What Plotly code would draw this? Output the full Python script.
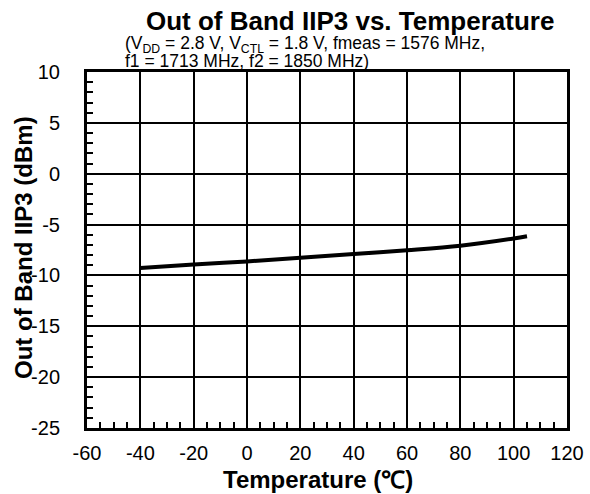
import plotly.graph_objects as go

temperature = [-40, -20, 0, 20, 40, 60, 80, 100, 105]
iip3 = [-9.27, -8.92, -8.62, -8.26, -7.90, -7.53, -7.08, -6.36, -6.14]

x_tickvals = [-60, -40, -20, 0, 20, 40, 60, 80, 100, 120]
x_ticktext = ["-60", "-40", "-20", "0", "20", "40", "60", "80", "100", "120"]
y_tickvals = [-25, -20, -15, -10, -5, 0, 5, 10]
y_ticktext = ["-25", "-20", "-15", "-10", "-5", "0", "5", "10"]

title_text = "Out of Band IIP3 vs. Temperature"
subtitle_line1 = "(V<sub>DD</sub> = 2.8 V, V<sub>CTL</sub> = 1.8 V, fmeas = 1576 MHz,"
subtitle_line2 = "f1 = 1713 MHz, f2 = 1850 MHz)"
x_title = "Temperature (℃)"
y_title = "Out of Band IIP3 (dBm)"

FONT = "Liberation Sans, Arial, sans-serif"
L, R, T, B = 87, 23, 72, 66
W, H = 590, 494
PW, PH = W - L - R, H - T - B


def px(x):
    return (x - L) / PW


def py(y):
    return (H - B - y) / PH


fig = go.Figure()
fig.add_trace(go.Scatter(x=temperature, y=iip3, mode="lines",
                         line=dict(color="black", width=4, shape="spline"),
                         showlegend=False))

fig.update_layout(
    width=W, height=H,
    margin=dict(l=L, r=R, t=T, b=B, autoexpand=False),
    paper_bgcolor="white", plot_bgcolor="white",
    font=dict(family=FONT, color="black", size=20),
    annotations=[
        dict(text="<b>" + title_text + "</b>", xref="paper", yref="paper",
             x=px(350), y=py(21), xanchor="center", yanchor="middle",
             showarrow=False, font=dict(size=26, family=FONT)),
        dict(text=subtitle_line1, xref="paper", yref="paper",
             x=px(123), y=py(44), xanchor="left", yanchor="middle",
             align="left", showarrow=False, font=dict(size=17.5, family=FONT)),
        dict(text=subtitle_line2, xref="paper", yref="paper",
             x=px(123), y=py(61), xanchor="left", yanchor="middle",
             align="left", showarrow=False, font=dict(size=17.5, family=FONT)),
        dict(text="<b>" + x_title + "</b>", xref="paper", yref="paper",
             x=px(318), y=py(479), xanchor="center", yanchor="middle",
             showarrow=False, font=dict(size=24, family=FONT)),
        dict(text="<b>" + y_title + "</b>", xref="paper", yref="paper",
             x=px(23), y=py(248), xanchor="center", yanchor="middle",
             textangle=-90, showarrow=False, font=dict(size=24, family=FONT)),
    ],
)

fig.update_xaxes(
    range=[-60, 120], tickvals=x_tickvals, ticktext=x_ticktext,
    showline=True, linecolor="black", linewidth=3, mirror=True,
    showgrid=True, gridcolor="black", gridwidth=1.5,
    ticks="inside", ticklen=6, tickwidth=2, tickcolor="black",
    minor=dict(dtick=5, tick0=-60, ticks="inside", ticklen=6, tickwidth=2,
               tickcolor="black", showgrid=False),
    tickfont=dict(size=20), ticklabelstandoff=5,
    zeroline=False, automargin=False,
)
fig.update_yaxes(
    range=[-25, 10], tickvals=y_tickvals, ticktext=y_ticktext,
    showline=True, linecolor="black", linewidth=3, mirror=True,
    showgrid=True, gridcolor="black", gridwidth=1.5,
    ticks="inside", ticklen=6, tickwidth=2, tickcolor="black",
    minor=dict(dtick=1, tick0=-25, ticks="inside", ticklen=6, tickwidth=2,
               tickcolor="black", showgrid=False),
    tickfont=dict(size=20), ticklabelstandoff=20,
    zeroline=False, automargin=False,
)

fig.write_html("out.html", config={"displayModeBar": False},
               post_script="document.body.style.margin='0';document.body.style.overflow='hidden';")
